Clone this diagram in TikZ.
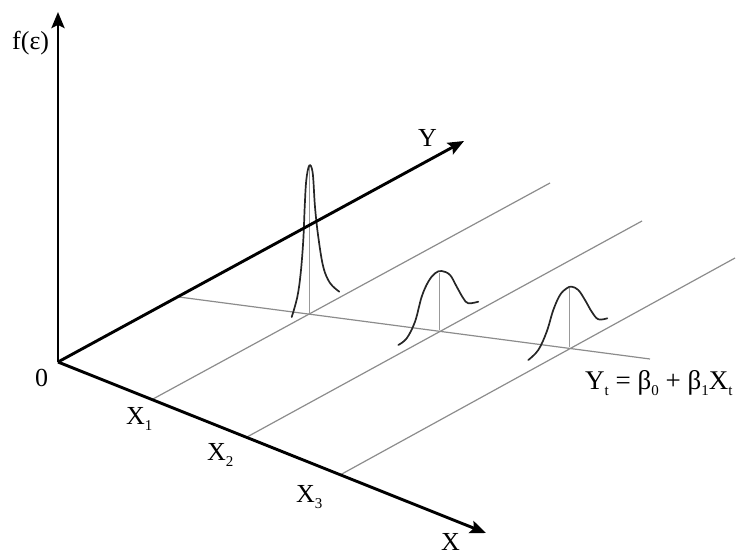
\documentclass[tikz,border=0pt]{standalone}
\usepackage{fontspec}
\setmainfont{Liberation Serif}
\usetikzlibrary{arrows.meta}
\newcommand\mysb[1]{\raisebox{-0.25em}{\fontsize{15}{15}\selectfont #1}}
\begin{document}
\begin{tikzpicture}[x=1pt,y=-1pt,
  axis/.style={line width=2.9pt,-{Stealth[length=16pt,width=13pt,inset=3pt]}},
  guide/.style={line width=1.2pt,draw=black!45},
  stem/.style={line width=0.9pt,draw=black!40},
  bell/.style={line width=1.7pt,draw=black!85,line cap=round},
  lbl/.style={inner sep=0pt,anchor=base west,font=\fontsize{26}{30}\selectfont},
  eq/.style={inner sep=0pt,anchor=base west,font=\fontsize{27}{32}\selectfont}]
\useasboundingbox (0,0) rectangle (744,556);
% key points
\coordinate (O) at (58,362);
\coordinate (ftip) at (58,12);
\coordinate (ytip) at (464,141);
\coordinate (xtip) at (486,533);
\coordinate (X1) at (153,399);
\coordinate (X2) at (247,437);
\coordinate (X3) at (340,475);
\coordinate (E1) at (550,183);
\coordinate (E2) at (642,221);
\coordinate (E3) at (735,258);
\coordinate (R0) at (179,297);
\coordinate (R1) at (650,359);
\coordinate (B1) at (309,313);
\coordinate (P1) at (309,166);
\coordinate (B2) at (439,330);
\coordinate (P2) at (439,273);
\coordinate (B3) at (569,347);
\coordinate (P3) at (569,288);
% guide lines
\draw[guide] (X1) -- (E1);
\draw[guide] (X2) -- (E2);
\draw[guide] (X3) -- (E3);
\draw[guide] (R0) -- (R1);
% stems
\draw[stem] (B1) -- (P1);
\draw[stem] (B2) -- (P2);
\draw[stem] (B3) -- (P3);
% bells
\draw[bell] plot[smooth,tension=0.6] coordinates {(291.7,317) (297.3,297) (300.7,273) (303.3,240) (304.7,207) (306.3,180) (309.3,165.5) (312.7,173) (315,207) (318.3,237) (323.3,267) (330,283) (339.3,291.7)};
\draw[bell] plot[smooth,tension=0.6] coordinates {(398.3,345) (406.7,338.3) (415,321.7) (421.7,296.7) (428.3,281.7) (435,273.3) (441.7,271) (450,275) (456.7,286.7) (463.3,298.3) (468.3,303.3) (478.3,301.7)};
\draw[bell] plot[smooth,tension=0.6] coordinates {(528.3,360) (538.3,350) (546.7,331.7) (553.3,310) (560,295) (566.7,288.3) (571.7,286.7) (578.3,290) (585,300) (591.7,311.7) (598.3,319.3) (607.3,318.3)};
% axes
\draw[axis] (O) -- (ftip);
\draw[axis] (O) -- (ytip);
\draw[axis] (O) -- (xtip);
% labels
\node[lbl] (lf) at (12,50) {f(ε)};
\node[lbl] (l0) at (35,386) {0};
\node[lbl] (lY) at (418,147) {Y};
\node[lbl] (lX) at (441,550) {X};
\node[lbl] (lX1) at (126,424) {X\mysb{1}};
\node[lbl] (lX2) at (207,460) {X\mysb{2}};
\node[lbl] (lX3) at (296,502) {X\mysb{3}};
\node[eq] (leq) at (585,389) {Y\mysb{t} = β\mysb{0} + β\mysb{1}X\mysb{t}};
\end{tikzpicture}
\end{document}
